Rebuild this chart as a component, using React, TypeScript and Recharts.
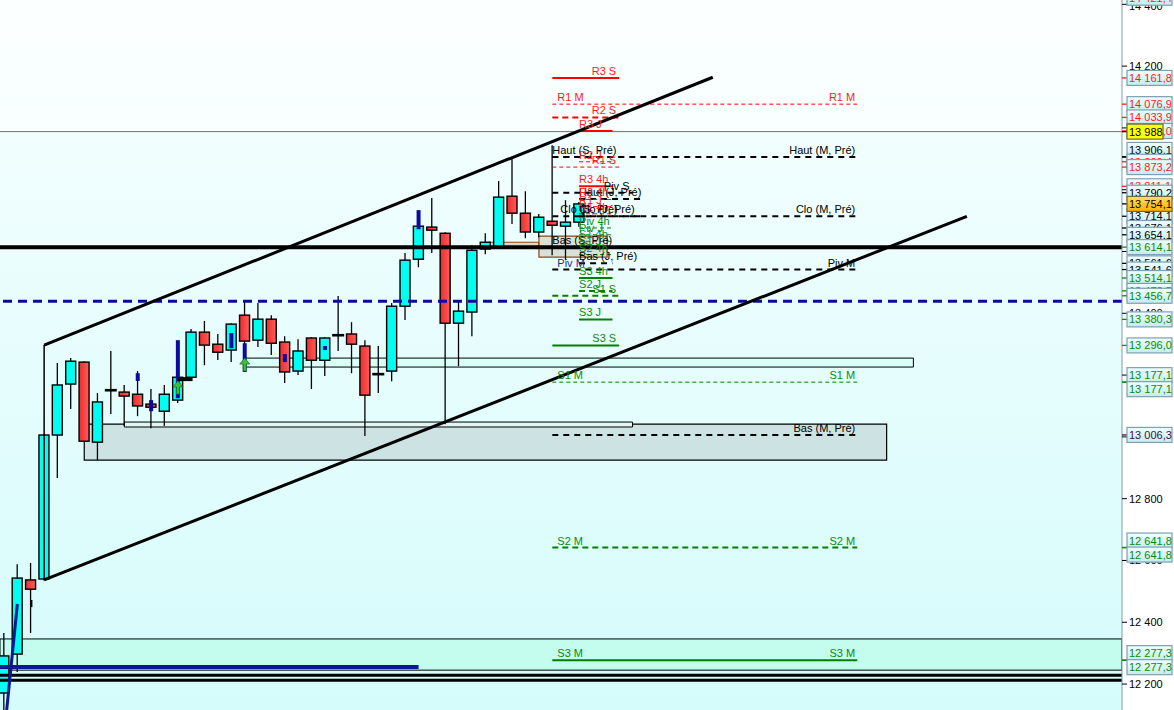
import React from 'react';
import { ComposedChart, Bar, XAxis, YAxis, CartesianGrid, ReferenceLine, ReferenceArea, ReferenceDot } from 'recharts';

// ---- candles ----
const opens = [12171, 12297, 12537, 12540, 13006, 13171, 13242, 12983, 13151, 13145, 13138, 13106, 13083, 13119, 13193, 13339, 13300, 13281, 13394, 13313, 13381, 13307, 13213, 13320, 13248, 13329, 13333, 13294, 13203, 13213, 13423, 13575, 13679, 13659, 13368, 13404, 13608, 13611, 13779, 13724, 13663, 13698, 13682, 13695];
const highs = [12365, 12588, 12592, 13010, 13239, 13255, 13245, 13142, 13278, 13168, 13213, 13155, 13168, 13200, 13349, 13375, 13333, 13368, 13443, 13433, 13394, 13326, 13316, 13323, 13323, 13456, 13371, 13313, 13294, 13433, 13595, 13705, 13773, 13662, 13439, 13621, 13659, 13828, 13899, 13795, 13721, 13944, 13766, 13760];
const lows = [12110, 12239, 12365, 12535, 12867, 13090, 12986, 12925, 13074, 13035, 13067, 13028, 13035, 13110, 13190, 13232, 13249, 13242, 13297, 13291, 13265, 13174, 13200, 13155, 13197, 13278, 13206, 13003, 13142, 13180, 13378, 13549, 13595, 13041, 13229, 13326, 13591, 13608, 13689, 13643, 13646, 13588, 13572, 13680];
const closes = [12291, 12543, 12507, 13006, 13168, 13245, 12986, 13113, 13151, 13132, 13100, 13096, 13138, 13193, 13339, 13297, 13274, 13365, 13310, 13381, 13303, 13210, 13278, 13248, 13320, 13329, 13300, 13135, 13203, 13423, 13572, 13682, 13669, 13368, 13407, 13604, 13630, 13776, 13724, 13663, 13711, 13685, 13695, 13754];

// ---- axis ----
const yTicks = [12200, 12400, 12600, 12800, 13000, 13200, 13400, 13600, 13800, 14000, 14200, 14400];
const xSlots = Array.from({ length: 84 }, (_, k) => k);

// ---- indicator marks (x index, top value, bottom value) ----
const blueMarkX = [13, 18, 10, 11, 17, 21, 24, 31];
const blueMarkTop = [13313, 13303, 13206, 13119, 13336, 13268, 13294, 13734];
const blueMarkBottom = [13125, 13210, 13181, 13083, 13287, 13242, 13281, 13672];
const arrowX = [13, 18];
const arrowY = [13181, 13255];

// ---- level lines ----
const levelNames = ['R1 M', 'Haut (M, Pré)', 'Clo (M, Pré)', 'Piv M', 'S1 M', 'Bas (M, Pré)', 'S2 M', 'S3 M',
  'R3 S', 'R2 S', 'Haut (S, Pré)', 'R1 S', 'Piv S', 'Clo (S, Pré)', 'Bas (S, Pré)', 'S1 S', 'S3 S',
  'R3 J', 'R2 J', 'R3 4h', 'Haut (J, Pré)', 'R2 4h', 'R1 J', 'R1 4h', 'Clo (J, Pré)', 'Piv 4h', 'Piv J', 'S1 4h', 'S1 J', 'S2 4h', 'Bas (J, Pré)', 'S3 4h', 'S2 J', 'S3 J'];
const levelValues = [14076.9, 13906.1, 13714.1, 13541.6, 13177.1, 13006.3, 12641.8, 12277.3,
  14161.8, 14033.9, 13906.1, 13873.2, 13790.2, 13714.1, 13614.1, 13456.7, 13296.0,
  13990.0, 13890.4, 13811.1, 13770.0, 13768.5, 13745.0, 13722.0, 13714.1, 13676.1, 13654.1, 13633.0, 13612.0, 13590.0, 13561.6, 13514.1, 13472.5, 13380.3];
const levelFrom = [41, 41, 41, 41, 41, 41, 41, 41,
  41, 41, 41, 41, 41, 41.6, 41, 41, 41,
  43, 43, 43, 43, 43, 43, 43, 43, 43, 43, 43, 43, 43, 43, 43, 43, 43];
const levelTo = [63.8, 63.8, 63.8, 63.8, 63.8, 63.8, 63.8, 63.8,
  46, 46, 46, 46, 47, 46, 46, 46, 46,
  45.5, 45.5, 45.5, 47.8, 45.5, 45.5, 45.5, 47.8, 45.5, 45.5, 45.5, 45.5, 45.5, 45.5, 45.5, 45.5, 45.5];
const levelStyles = ['redThin', 'blackDash', 'blackDash', 'blackDash', 'greenThin', 'blackDash', 'greenDash', 'greenSolid',
  'redSolid', 'redDash', 'blackDash', 'redThin', 'blackDash', 'none', 'none', 'greenDash', 'greenSolid',
  'redSolid', 'redThin', 'redSolid', 'blackDash', 'redThin', 'redThin', 'redThin', 'blackDash', 'greenThin', 'greenThin', 'greenThin', 'greenThin', 'greenThin', 'blackDash', 'greenSolid', 'greenDash', 'greenSolid'];
const levelLabelSides = ['both', 'right', 'right', 'both', 'both', 'right', 'both', 'both',
  'end', 'end', 'start', 'end', 'end', 'start', 'start', 'end', 'end',
  'start', 'start', 'start', 'start', 'start', 'start', 'start', 'start', 'start', 'start', 'start', 'start', 'start', 'start', 'start', 'start', 'start'];

// ---- right axis price boxes ----
const boxValues = [14421.4, 14161.8, 14076.9, 14033.9, 13990.0, 13906.1, 13906.1, 13890.4, 13873.2, 13811.1, 13790.2, 13714.1, 13676.1, 13654.1, 13614.1, 13561.6, 13541.6, 13514.1, 13472.5, 13456.7, 13380.3, 13296.0, 13177.1, 13177.1, 13006.3, 12641.8, 12641.8, 12277.3, 12277.3, 13988, 13754.1];
const boxTexts = ['14 421,4', '14 161,8', '14 076,9', '14 033,9', '13 990,0', '13 906,1', '13 906,1', '13 890,4', '13 873,2', '13 811,1', '13 790,2', '13 714,1', '13 676,1', '13 654,1', '13 614,1', '13 561,6', '13 541,6', '13 514,1', '13 472,5', '13 456,7', '13 380,3', '13 296,0', '13 177,1', '13 177,1', '13 006,3', '12 641,8', '12 641,8', '12 277,3', '12 277,3', '13 988', '13 754,1'];
const boxColors = ['red', 'red', 'red', 'red', 'red', 'black', 'black', 'red', 'red', 'red', 'black', 'black', 'black', 'black', 'green', 'black', 'black', 'green', 'green', 'green', 'green', 'green', 'green', 'green', 'purple', 'green', 'green', 'green', 'green', 'black', 'black'];
const boxFills = ['c', 'c', 'c', 'c', 'c', 'c', 'c', 'c', 'c', 'c', 'c', 'c', 'c', 'c', 'c', 'c', 'c', 'c', 'c', 'c', 'c', 'c', 'c', 'c', 'c', 'c', 'c', 'c', 'c', 'yellow', 'orange'];

const candles = opens.map((o, i) => ({
  i, open: o, high: highs[i], low: lows[i], close: closes[i], range: [lows[i], highs[i]],
}));

const TEXT: Record<string, string> = { red: '#ff1a1a', black: '#000000', green: '#0a8a0a', purple: '#4a0a4a', navy: '#1a2f8a' };
const STYLES: Record<string, { stroke: string; w: number; dash?: string }> = {
  redThin: { stroke: '#ff0000', w: 1, dash: '4 3' },
  redDash: { stroke: '#ff0000', w: 2, dash: '6 4' },
  redSolid: { stroke: '#ff0000', w: 2 },
  blackDash: { stroke: '#000000', w: 2, dash: '6 5' },
  greenThin: { stroke: '#008000', w: 1, dash: '4 3' },
  greenDash: { stroke: '#008000', w: 2, dash: '6 4' },
  greenSolid: { stroke: '#008000', w: 2 },
  none: { stroke: 'none', w: 0 },
};
const FONT = '"Liberation Sans", Arial, sans-serif';

const fmtTick = (v: number) => String(Math.round(v)).replace(/\B(?=(\d{3})+(?!\d))/g, ' ');

function Candle(props: any) {
  const { x, y, width, height, payload } = props;
  if (!payload || x == null || y == null) return null;
  const lo = payload.low;
  const hi = payload.high;
  const top = Math.min(y, y + height);
  const h = Math.abs(height);
  const ppu = hi > lo ? h / (hi - lo) : 0;
  const cx = x + width / 2;
  const py = (v: number) => top + (hi - v) * ppu;
  const yO = py(payload.open);
  const yC = py(payload.close);
  const up = payload.close > payload.open;
  return (
    <g>
      <line x1={cx} x2={cx} y1={top} y2={top + h} stroke="#000" strokeWidth={1.3} />
      {payload.open === payload.close ? (
        <line x1={cx - 6} x2={cx + 6} y1={yO} y2={yO} stroke="#000" strokeWidth={2.6} />
      ) : (
        <rect x={cx - 5} y={Math.min(yO, yC)} width={10} height={Math.max(Math.abs(yC - yO), 2)}
          fill={up ? '#00fff0' : 'url(#redGrad)'} stroke="#000" strokeWidth={1.4} />
      )}
    </g>
  );
}

function Arrow(props: any) {
  const { cx, cy } = props;
  if (cx == null) return null;
  return (
    <path d={`M ${cx} ${cy} L ${cx + 5} ${cy + 6} L ${cx + 1.5} ${cy + 6} L ${cx + 1.5} ${cy + 13} L ${cx - 1.5} ${cy + 13} L ${cx - 1.5} ${cy + 6} L ${cx - 5} ${cy + 6} Z`}
      fill="#3cc03c" stroke="#1f7a1f" strokeWidth={0.8} />
  );
}

function makeText(text: string, color: string, anchor: 'start' | 'end', dx: number) {
  return (p: any) => {
    if (p.cx == null) return null;
    return (
      <text x={p.cx + dx} y={p.cy - 3} fill={color} fontSize={11} fontFamily={FONT} textAnchor={anchor}>{text}</text>
    );
  };
}

function makeBox(text: string, color: string, fill: string, off: number) {
  return (p: any) => {
    if (p.cx == null) return null;
    const w = text.length > 6 ? 45 : 36;
    const bg = fill === 'yellow' ? '#ffff00' : fill === 'orange' ? 'url(#orangeGrad)' : 'url(#boxGrad)';
    const by = p.cy + off;
    return (
      <g>
        <line x1={p.cx} x2={p.cx + 5} y1={p.cy} y2={p.cy} stroke={TEXT[color]} strokeWidth={1.3} />
        <rect x={p.cx + 5} y={by - 7.5} width={w} height={15} fill={bg} stroke={fill === 'c' ? '#7d9fb2' : '#6a6a40'} strokeWidth={1.2} />
        <text x={p.cx + 7} y={by + 4} fill={TEXT[color]} fontSize={11} fontFamily={FONT}>{text}</text>
      </g>
    );
  };
}

export default function App() {
  // spread equal-valued boxes so both stay readable
  const seen: Record<string, number> = {};
  const counts: Record<string, number> = {};
  boxValues.forEach((v) => { counts[v] = (counts[v] || 0) + 1; });
  const boxOffsets = boxValues.map((v) => {
    const k = seen[v] || 0;
    seen[v] = k + 1;
    return counts[v] > 1 ? (k === 0 ? -7 : 7) : 0;
  });

  return (
    <div style={{ position: 'absolute', left: 0, top: 0, width: 1174, height: 710 }}>
      <ComposedChart width={1174} height={710} data={candles} margin={{ top: 0, right: 0, bottom: 0, left: 0 }}
        style={{ fontFamily: FONT }}>
        <defs>
          <linearGradient id="bgGrad" x1="0" y1="0" x2="0" y2="1">
            <stop offset="0%" stopColor="#f8ffff" />
            <stop offset="100%" stopColor="#d5fbfb" />
          </linearGradient>
          <linearGradient id="redGrad" x1="0" y1="0" x2="1" y2="0">
            <stop offset="0%" stopColor="#ee2c2c" />
            <stop offset="100%" stopColor="#ff5c5c" />
          </linearGradient>
          <linearGradient id="boxGrad" x1="0" y1="0" x2="0" y2="1">
            <stop offset="0%" stopColor="#f0ffff" />
            <stop offset="100%" stopColor="#c4ecec" />
          </linearGradient>
          <linearGradient id="orangeGrad" x1="0" y1="0" x2="0" y2="1">
            <stop offset="0%" stopColor="#ffe060" />
            <stop offset="100%" stopColor="#ffb000" />
          </linearGradient>
        </defs>
        <CartesianGrid horizontal={false} vertical={false} fill="url(#bgGrad)" />
        <XAxis type="number" dataKey="i" domain={[-0.3, 83.6]} ticks={xSlots} hide allowDataOverflow />
        <YAxis orientation="right" type="number" domain={[12116, 14414]} ticks={yTicks} allowDataOverflow width={52}
          tickFormatter={fmtTick} tick={{ fill: '#000', fontSize: 11, fontFamily: FONT }}
          tickSize={5} tickLine={{ stroke: '#000' }} axisLine={{ stroke: '#7d9fb2' }} />

        <ReferenceArea y1={13988} y2={14414} fill="#ffffff" fillOpacity={0.45} stroke="none" ifOverflow="hidden" />
        <ReferenceArea y1={12245} y2={12346} fill="#c4fcee" fillOpacity={1} stroke="#000" strokeWidth={1} ifOverflow="hidden" />
        <ReferenceArea x1={6} x2={66} y1={12925} y2={13041} fill="#cde2e2" fillOpacity={1} stroke="#000" strokeWidth={1.2} />
        <ReferenceArea x1={9} x2={47} y1={13032} y2={13048} fill="#e3f6f6" fillOpacity={1} stroke="#000" strokeWidth={1} />
        <ReferenceArea x1={18} x2={68} y1={13226} y2={13255} fill="#d9fff7" fillOpacity={1} stroke="#000" strokeWidth={1} />
        <ReferenceArea x1={36.2} x2={40} y1={13611} y2={13630} fill="#d6d6c8" fillOpacity={0.9} stroke="#8b4a14" strokeWidth={1.2} />
        <ReferenceArea x1={40} x2={45.1} y1={13582} y2={13650} fill="#c8c8b8" fillOpacity={0.55} stroke="#8b4a14" strokeWidth={1.2} />

        <ReferenceLine y={13988} stroke="#707070" strokeWidth={1} />
        <ReferenceLine y={12228.3} stroke="#000" strokeWidth={3} />
        <ReferenceLine y={12212.4} stroke="#000" strokeWidth={3} />
        <ReferenceLine segment={[{ x: -0.3, y: 12255.1 }, { x: 31, y: 12255.1 }]} stroke="#0a1a90" strokeWidth={4} />

        {levelNames.map((n, k) => {
          const st = STYLES[levelStyles[k]];
          if (st.stroke === 'none') return null;
          return (
            <ReferenceLine key={'lv' + k} segment={[{ x: levelFrom[k], y: levelValues[k] }, { x: levelTo[k], y: levelValues[k] }]}
              stroke={st.stroke} strokeWidth={st.w} strokeDasharray={st.dash} />
          );
        })}

        <Bar dataKey="range" barSize={11} shape={Candle} isAnimationActive={false} />

        {blueMarkX.map((x, k) => (
          <ReferenceLine key={'bm' + k} segment={[{ x, y: blueMarkTop[k] }, { x, y: blueMarkBottom[k] }]} stroke="#0a0aa0" strokeWidth={4} />
        ))}
        <ReferenceLine segment={[{ x: 2.05, y: 12472 }, { x: 2.05, y: 12449 }]} stroke="#000" strokeWidth={2} />
        <ReferenceLine segment={[{ x: 0.2, y: 12116 }, { x: 1, y: 12459 }]} stroke="#0a1a90" strokeWidth={3} ifOverflow="visible" />
        <ReferenceLine segment={[{ x: 13, y: 13187 }, { x: 14.1, y: 13187 }]} stroke="#000" strokeWidth={4} />
        {arrowX.map((x, k) => (
          <ReferenceDot key={'ar' + k} x={x} y={arrowY[k]} r={0} shape={Arrow} ifOverflow="visible" />
        ))}

        <ReferenceLine y={13614.1} stroke="#000" strokeWidth={4} />
        <ReferenceLine y={13439} stroke="#0a0aa0" strokeWidth={3} strokeDasharray="9 6" />
        <ReferenceLine segment={[{ x: 3, y: 13297 }, { x: 53, y: 14164 }]} stroke="#000" strokeWidth={3} />
        <ReferenceLine segment={[{ x: 3, y: 12537 }, { x: 72, y: 13714 }]} stroke="#000" strokeWidth={3} />
        <ReferenceLine segment={[{ x: 3, y: 12537 }, { x: 3, y: 13297 }]} stroke="#000" strokeWidth={1.5} />

        {levelNames.map((n, k) => {
          const side = levelLabelSides[k];
          const st = levelStyles[k];
          const color = st.startsWith('red') ? TEXT.red : st.startsWith('green') ? TEXT.green : TEXT.black;
          const out: any[] = [];
          if (side === 'both' || side === 'left') {
            const c = n === 'Piv M' ? TEXT.navy : color;
            out.push(<ReferenceDot key={'ll' + k} x={levelFrom[k]} y={levelValues[k]} r={0} ifOverflow="visible" shape={makeText(n, c, 'start', 5)} />);
          }
          if (side === 'both' || side === 'right') {
            out.push(<ReferenceDot key={'lr' + k} x={levelTo[k]} y={levelValues[k]} r={0} ifOverflow="visible" shape={makeText(n, color, 'end', -2)} />);
          }
          if (side === 'end') {
            out.push(<ReferenceDot key={'le' + k} x={levelTo[k]} y={levelValues[k]} r={0} ifOverflow="visible" shape={makeText(n, color, 'end', -3)} />);
          }
          if (side === 'start') {
            out.push(<ReferenceDot key={'ls' + k} x={levelFrom[k]} y={levelValues[k]} r={0} ifOverflow="visible" shape={makeText(n, color, 'start', 0)} />);
          }
          return out;
        })}

        {boxValues.map((v, k) => (
          <ReferenceDot key={'bx' + k} x={83.6} y={v} r={0} ifOverflow="visible" zIndex={3000}
            shape={makeBox(boxTexts[k], boxColors[k], boxFills[k], boxOffsets[k])} />
        ))}
      </ComposedChart>
    </div>
  );
}
